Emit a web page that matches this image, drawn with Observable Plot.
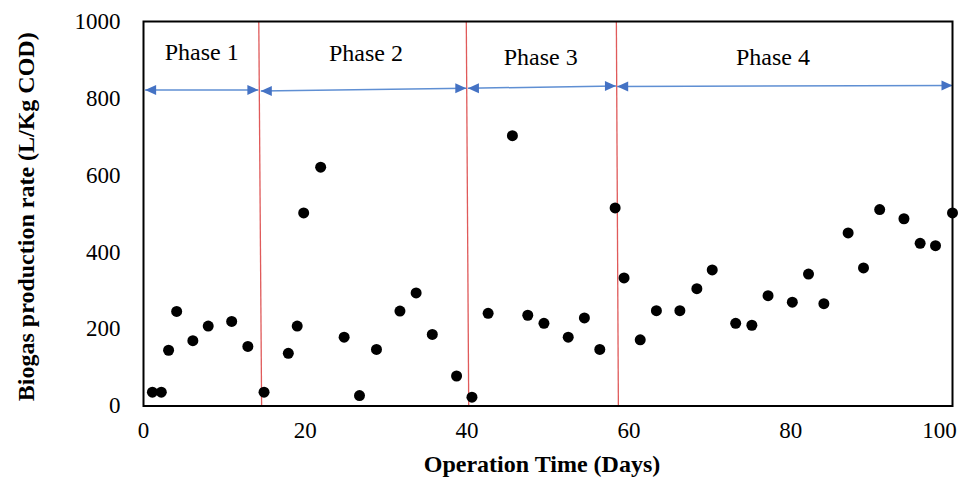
<!DOCTYPE html>
<html><head><meta charset="utf-8">
<script src="https://cdn.jsdelivr.net/npm/d3@7"></script>
<script src="https://cdn.jsdelivr.net/npm/@observablehq/plot@0.6"></script>
<style>body{margin:0;background:#fff}</style>
</head><body><div id="chart"></div>
<script>
// Measured points
const days = [1.1,2.2,3.1,4.1,6.1,8.0,10.9,12.9,14.9,17.9,19.0,19.8,21.9,24.8,26.7,28.8,31.7,33.7,35.7,38.7,40.6,42.6,45.6,47.5,49.5,52.5,54.5,56.4,58.3,59.4,61.4,63.4,66.3,68.4,70.3,73.2,75.2,77.2,80.2,82.2,84.1,87.1,89.0,91.0,94.0,96.0,97.9,100];
const rates = [36,36,145,246,170,208,220,155,36,137,208,502,621,179,27,147,247,294,186,78,23,241,703,236,215,179,229,147,515,333,172,248,248,305,354,215,210,287,270,343,266,450,359,511,487,423,417,502];

// Phase divider lines (top and bottom x)
const dividerTopX = [14.25, 39.9, 58.45];
const dividerBottomX = [14.6, 40.2, 58.7];

// Phase arrows
const phaseNames = ["Phase 1","Phase 2","Phase 3","Phase 4"];
const arrowStartX = [0.2, 14.5, 40.1, 58.55];
const arrowStartY = [822, 819, 826.5, 831];
const arrowEndX = [14.2, 39.9, 58.4, 100];
const arrowEndY = [822, 826.5, 832, 833.5];
const labelX = [7.2, 27.5, 49.1, 77.8];
const labelY = [919, 918, 907, 907];

const xTicks = [0,20,40,60,80];
const xLastTick = [100];
const yTicks = [0,200,400,600,800,1000];

const serif = "'Liberation Serif','Times New Roman',serif";

const phases = phaseNames.map((name,i)=>({name, x1:arrowStartX[i], y1:arrowStartY[i], x2:arrowEndX[i], y2:arrowEndY[i], lx:labelX[i], ly:labelY[i]}));
const dividers = dividerTopX.map((t,i)=>({top:t, bottom:dividerBottomX[i]}));
const pts = days.map((d,i)=>({day:d, rate:rates[i]}));

const headRight = {draw(ctx){ctx.moveTo(0,0);ctx.lineTo(-11,-5);ctx.lineTo(-11,5);ctx.closePath();}};
const headLeft = {draw(ctx){ctx.moveTo(0,0);ctx.lineTo(11,-5);ctx.lineTo(11,5);ctx.closePath();}};

const chart = Plot.plot({
  width: 963, height: 479,
  marginLeft: 143, marginRight: 11, marginTop: 21, marginBottom: 73.5,
  style: {fontFamily: serif, fontSize: "23px", background: "#fff", color: "#000"},
  x: {domain: [0,100], label: null},
  y: {domain: [0,1000], label: null},
  marks: [
    Plot.link(dividers, {x1:"top", y1:()=>1000, x2:"bottom", y2:()=>0, stroke:"#e05a5a", strokeWidth:1.3}),
    Plot.link(phases, {x1:"x1", y1:"y1", x2:"x2", y2:"y2", stroke:"#5f8fd3", strokeWidth:1.5}),
    Plot.dot(phases, {x:"x1", y:"y1", symbol: headLeft, fill:"#4472c4", stroke:null, r:5}),
    Plot.dot(phases, {x:"x2", y:"y2", symbol: headRight, fill:"#4472c4", stroke:null, r:5}),
    Plot.text(phases, {x:"lx", y:"ly", text:"name", fontSize:24, fontFamily:serif, fill:"#000"}),
    Plot.dot(pts, {x:"day", y:"rate", r:5.5, fill:"#000", stroke:null}),
    Plot.frame({stroke:"#000", strokeWidth:2}),
    Plot.axisX({ticks: xTicks, tickFormat: d=>String(d), tickSize:0, tickPadding:16, fontSize:23, fontFamily:serif, label:null}),
    Plot.axisX({ticks: xLastTick, tickFormat: d=>String(d), tickSize:0, tickPadding:16, dx:-13, fontSize:23, fontFamily:serif, label:null}),
    Plot.axisY({ticks: yTicks, tickFormat: d=>String(d), tickSize:0, tickPadding:23, fontSize:23, fontFamily:serif, label:null}),
    Plot.text(["Operation Time (Days)"], {frameAnchor:"bottom", dy:66, dx:-6, text:d=>d, fontSize:24, fontWeight:"bold", fontFamily:serif, fill:"#000"}),
    Plot.text(["Biogas production rate (L/Kg COD)"], {frameAnchor:"left", dx:-117, dy:3, rotate:-90, textAnchor:"middle", text:d=>d, fontSize:24, fontWeight:"bold", fontFamily:serif, fill:"#000"})
  ]
});
document.getElementById("chart").appendChild(chart);
</script>
</body></html>
